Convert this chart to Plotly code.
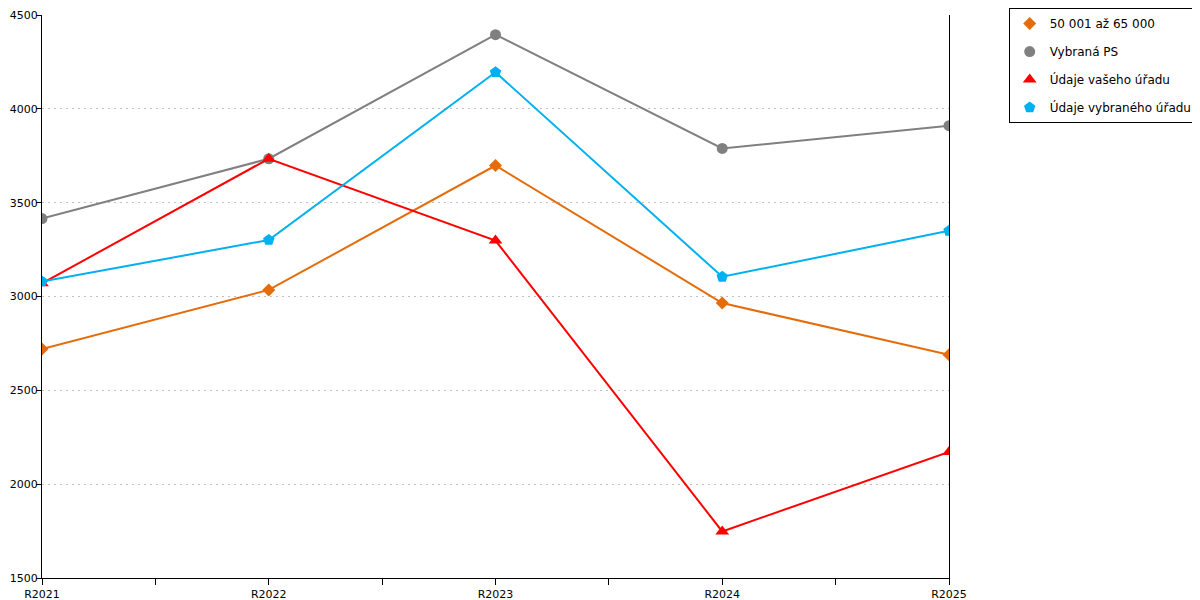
import plotly.graph_objects as go

categories = ["R2021", "R2022", "R2023", "R2024", "R2025"]
series_names = ["50 001 až 65 000", "Vybraná PS", "Údaje vašeho úřadu", "Údaje vybraného úřadu"]
orange_vals = [2720, 3035, 3698, 2965, 2689]
gray_vals = [3415, 3734, 4395, 3789, 3910]
red_vals = [3070, 3734, 3298, 1748, 2172]
blue_vals = [3080, 3301, 4195, 3105, 3350]
y_ticks = [1500, 2000, 2500, 3000, 3500, 4000, 4500]

colors = ["#E46C0A", "#808080", "#FF0000", "#00B0F0"]
symbols = ["diamond", "circle", "triangle-up", "pentagon"]
sizes = [10, 11, 12, 12]
values = [orange_vals, gray_vals, red_vals, blue_vals]

xpos = list(range(len(categories)))

fig = go.Figure()
for name, vals, c, s, sz in zip(series_names, values, colors, symbols, sizes):
    fig.add_trace(go.Scatter(
        x=xpos, y=vals, name=name, mode="lines+markers",
        line=dict(color=c, width=2),
        marker=dict(color=c, symbol=s, size=sz, line=dict(width=0)),
        legendgroup=name, showlegend=False,
    ))
for name, c, s, sz in zip(series_names, colors, symbols, sizes):
    fig.add_trace(go.Scatter(
        x=[None], y=[None], name=name, mode="markers",
        marker=dict(color=c, symbol=s, size=sz, line=dict(width=0)),
        legendgroup=name, showlegend=True,
    ))

fig.update_layout(
    width=1200, height=600,
    margin=dict(l=34, r=259, t=7, b=30, autoexpand=False),
    paper_bgcolor="white", plot_bgcolor="white",
    font=dict(family="DejaVu Sans, Verdana, sans-serif", size=11, color="black"),
    showlegend=True,
    legend=dict(
        x=1.2742, y=1.0124, xanchor="right", yanchor="top",
        bordercolor="black", borderwidth=1, bgcolor="white",
        font=dict(size=12), tracegroupgap=9, traceorder="grouped",
        itemwidth=30,
    ),
)
fig.update_xaxes(
    range=[0, 4], tickvals=xpos, ticktext=categories,
    showgrid=False, zeroline=False,
    showline=True, linecolor="black", linewidth=1,
    ticks="outside", ticklen=6, tickcolor="black",
    minor=dict(dtick=0.5, tick0=0, ticks="outside", ticklen=6, tickcolor="black", showgrid=False),
    tickfont=dict(size=11),
    ticklabeloverflow="allow",
)
fig.update_yaxes(
    range=[1500, 4500], tickvals=y_ticks,
    showgrid=True, gridcolor="#C0C0C0", griddash="2px,4px", gridwidth=1,
    zeroline=False,
    showline=True, linecolor="black", linewidth=1, mirror=True,
    ticks="outside", ticklen=5, tickcolor="black",
    ticklabelstandoff=-4, ticklabeloverflow="allow",
    tickfont=dict(size=11),
)

fig.write_html("out.html")
